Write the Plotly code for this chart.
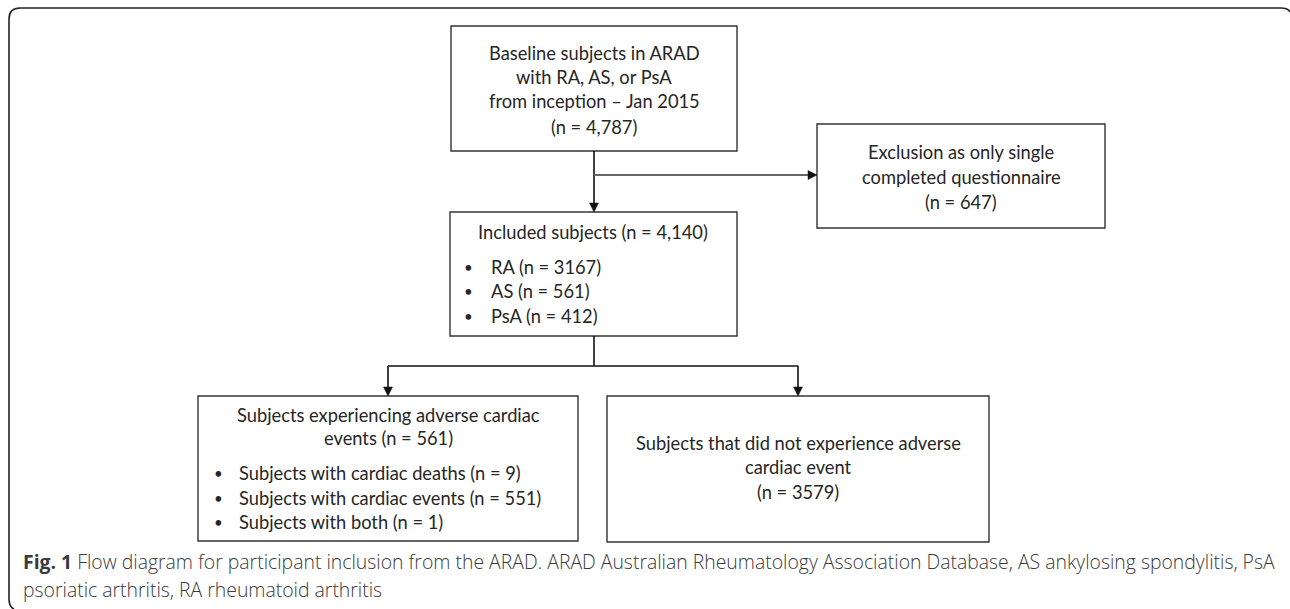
import plotly.graph_objects as go

W, H = 1290, 609

# ---- content ----
baseline_lines = ["Baseline subjects in ARAD", "with RA, AS, or PsA",
                  "from inception \u2013 Jan 2015", "(n = 4,787)"]
excluded_lines = ["Exclusion as only single", "completed questionnaire", "(n = 647)"]
included_title = "Included subjects (n = 4,140)"
included_groups = ["RA", "AS", "PsA"]
included_counts = [3167, 561, 412]
event_title = ["Subjects experiencing adverse cardiac", "events (n = 561)"]
event_groups = ["Subjects with cardiac deaths", "Subjects with cardiac events", "Subjects with both"]
event_counts = [9, 551, 1]
no_event_lines = ["Subjects that did not experience adverse", "cardiac event", "(n = 3579)"]
caption_bold = "Fig. 1"
caption_line1 = (" Flow diagram for participant inclusion from the ARAD. ARAD Australian Rheumatology "
                 "Association Database, AS ankylosing spondylitis, PsA")
caption_line2 = "psoriatic arthritis, RA rheumatoid arthritis"

BOX_FONT = "Lato, 'Open Sans', sans-serif"
CAP_FONT = "'Open Sans', 'Noto Sans', sans-serif"
TXT = "#262626"
FS = 18.3

shapes = []
annotations = []


def box(x0, y0, x1, y1):
    shapes.append(dict(type="rect", xref="x", yref="y", x0=x0, y0=y0, x1=x1, y1=y1,
                       line=dict(color="#333333", width=1.4), fillcolor="rgba(0,0,0,0)"))


def line(x0, y0, x1, y1, color="#111111", width=1.6):
    shapes.append(dict(type="line", xref="x", yref="y", x0=x0, y0=y0, x1=x1, y1=y1,
                       line=dict(color=color, width=width)))


def arrow_down(x, y_tip, s=4.5, h=9):
    shapes.append(dict(type="path", xref="x", yref="y",
                       path=f"M {x-s},{y_tip-h} L {x+s},{y_tip-h} L {x},{y_tip} Z",
                       fillcolor="#111111", line=dict(color="#111111", width=0.5)))


def arrow_right(x_tip, y, s=4.5, h=9):
    shapes.append(dict(type="path", xref="x", yref="y",
                       path=f"M {x_tip-h},{y-s} L {x_tip-h},{y+s} L {x_tip},{y} Z",
                       fillcolor="#111111", line=dict(color="#111111", width=0.5)))


def text(x, y, s, anchor="center", size=FS, color=TXT, family=BOX_FONT, weight=None):
    f = dict(family=family, size=size, color=color)
    if weight is not None:
        f["weight"] = weight
    annotations.append(dict(x=x, y=y, xref="x", yref="y", text=s, showarrow=False,
                            xanchor=anchor, yanchor="middle", font=f))


# ---- outer rounded frame ----
shapes.append(dict(type="path", xref="x", yref="y",
                   path="M 14,609 Q 9,607 9,599 L 9,19 Q 9,8 20,8 L 1281,8 Q 1288,8 1290,12",
                   line=dict(color="#222222", width=1.6)))

# ---- boxes ----
box(451, 26, 737, 151)      # baseline
box(817, 124, 1105, 228)    # exclusion
box(450, 212, 737, 336)     # included
box(198, 396, 578, 541)     # events
box(607, 396, 989, 542)     # no events

# ---- connectors ----
cx = 594
line(cx, 151, cx, 203)
arrow_down(cx, 212)
line(cx, 175, 808, 175, color="#666666", width=2)
arrow_right(817, 175)
line(cx, 336, cx, 366)
line(388, 366, 798, 366)
line(388, 366, 388, 387)
line(798, 366, 798, 387)
arrow_down(388, 396)
arrow_down(798, 396)

# ---- box texts ----
for s, y in zip(baseline_lines, [53, 77, 101, 127]):
    text(cx, y, s)
for s, y in zip(excluded_lines, [152, 177, 202]):
    text(961, y, s)
text(593, 232, included_title)
for g, n, y in zip(included_groups, included_counts, [267, 291, 316]):
    text(468, y, "\u2022", size=15)
    text(489, y, f"{g} (n = {n})", anchor="left")
for s, y in zip(event_title, [415, 438]):
    text(388, y, s)
for g, n, y in zip(event_groups, event_counts, [473, 498, 522]):
    text(218, y, "\u2022", size=15)
    text(237, y, f"{g} (n = {n})", anchor="left")
for s, y in zip(no_event_lines, [443, 467, 492]):
    text(798, y, s)

# ---- caption ----
text(21, 561, f"<b>{caption_bold}</b>{caption_line1}", anchor="left", size=19.4,
     color="#3a3a3a", family=CAP_FONT, weight=300)
text(21, 589, caption_line2, anchor="left", size=19.4, color="#3a3a3a", family=CAP_FONT,
     weight=300)

fig = go.Figure()
fig.update_layout(
    width=W, height=H,
    margin=dict(l=0, r=0, t=0, b=0),
    paper_bgcolor="white", plot_bgcolor="white",
    xaxis=dict(range=[0, W], visible=False, fixedrange=True),
    yaxis=dict(range=[H, 0], visible=False, fixedrange=True),
    shapes=shapes, annotations=annotations, showlegend=False,
)
fig.write_html("out.html", config={"displayModeBar": False},
               post_script="document.body.style.margin='0';document.body.style.overflow='hidden';")
